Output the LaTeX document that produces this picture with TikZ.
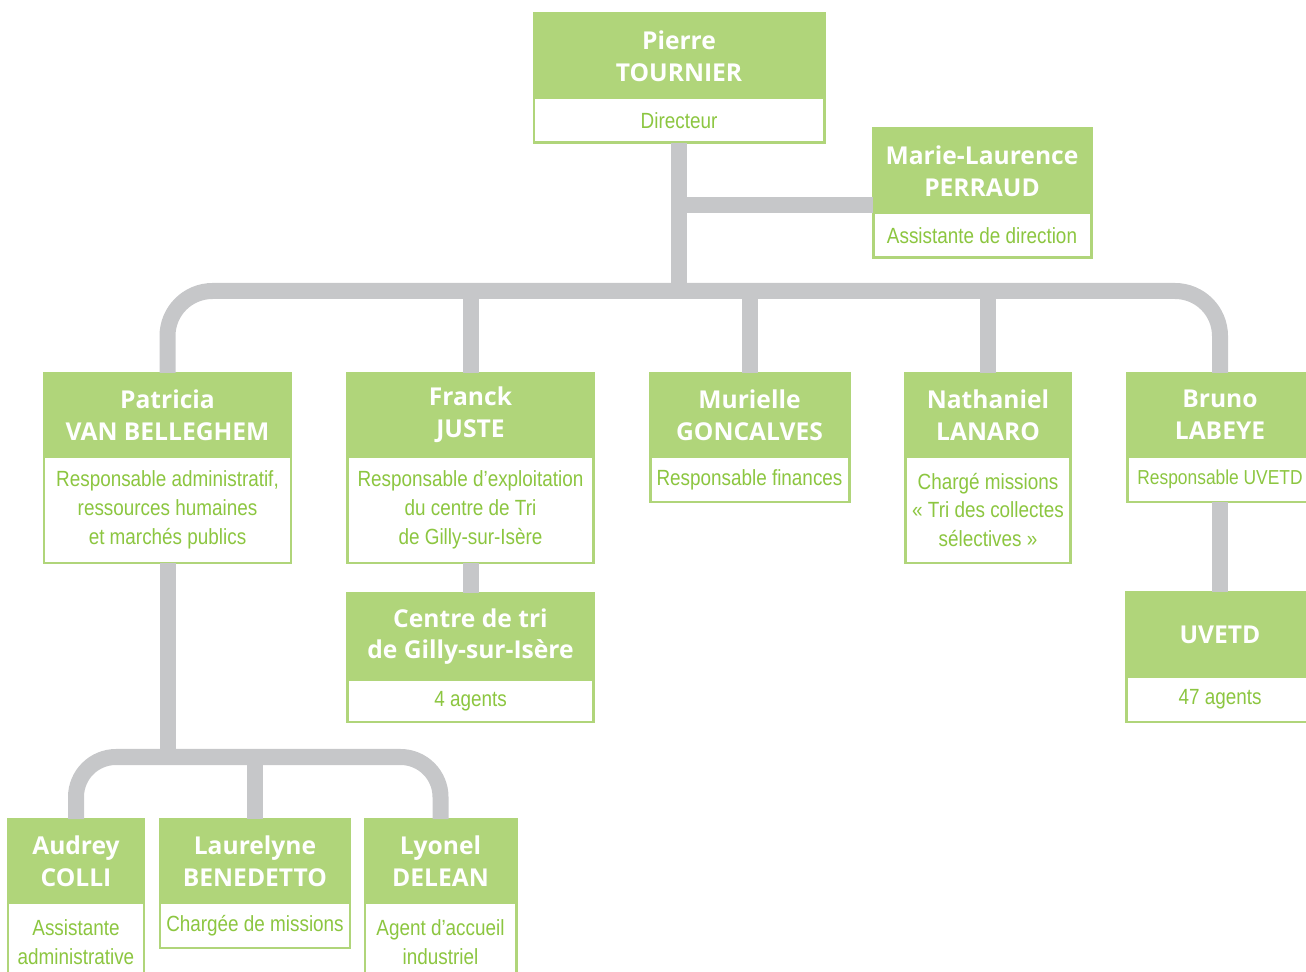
\documentclass[tikz,border=0pt]{standalone}
\usepackage{fontspec}
\setmainfont{Liberation Sans}
\newfontfamily\headfont{Open Sans}
\newfontfamily\rolefont[FakeStretch=0.86]{Liberation Sans}
\usetikzlibrary{positioning}
\definecolor{boxgreen}{HTML}{B0D57A}
\definecolor{textgreen}{HTML}{8CC640}
\definecolor{linkgray}{HTML}{C6C7C9}

\begin{document}
\begin{tikzpicture}[
  head/.style={rectangle, fill=boxgreen, draw=boxgreen, line width=1.7pt, outer sep=0pt, inner sep=0pt, minimum height=1.68cm, align=center, text=white, font=\headfont\bfseries\fontsize{14}{18}\selectfont},
  role/.style={rectangle, fill=white, draw=boxgreen, line width=1.7pt, outer sep=0pt, inner sep=0pt, minimum height=0.9cm, align=center, text=textgreen, font=\rolefont\fontsize{12.5}{16.4}\selectfont},
  link/.style={draw=linkgray, line width=0.32cm}
]
\useasboundingbox (0,0) rectangle (26.12,-19.44);

\node[head, minimum width=5.8cm] (tournier) at (13.58,-1.12) {Pierre\\TOURNIER};
\node[role, minimum width=5.8cm, below=0pt of tournier] (tournierR) {Directeur};
\node[head, minimum width=4.36cm] (perraud) at (19.64,-3.42) {Marie-Laurence\\PERRAUD};
\node[role, minimum width=4.36cm, below=0pt of perraud] (perraudR) {Assistante de direction};

\node[head, minimum width=4.94cm] (vanbelleghem) at (3.35,-8.3) {Patricia\\VAN BELLEGHEM};
\node[role, minimum width=4.94cm, minimum height=2.12cm, below=0pt of vanbelleghem] (vanbelleghemR) {Responsable administratif,\\ressources humaines\\et marchés publics};
\node[head, minimum width=4.92cm, right=1.13cm of vanbelleghem] (juste) {Franck\\JUSTE};
\node[role, minimum width=4.92cm, minimum height=2.12cm, below=0pt of juste] (justeR) {Responsable d’exploitation\\du centre de Tri\\de Gilly-sur-Isère};
\node[head, minimum width=3.98cm, right=1.13cm of juste] (goncalves) {Murielle\\GONCALVES};
\node[role, minimum width=3.98cm, below=0pt of goncalves] (goncalvesR) {Responsable finances};
\node[head, minimum width=3.3cm, right=1.13cm of goncalves] (lanaro) {Nathaniel\\LANARO};
\node[role, minimum width=3.3cm, minimum height=2.12cm, below=0pt of lanaro] (lanaroR) {Chargé missions\\« Tri des collectes\\sélectives »};
\node[head, minimum width=3.72cm, right=1.13cm of lanaro] (labeye) {Bruno\\LABEYE};
\node[role, minimum width=3.72cm, below=0pt of labeye, font=\rolefont\fontsize{11.5}{16.4}\selectfont] (labeyeR) {Responsable UVETD};

\node[head, minimum width=4.92cm, minimum height=1.74cm, below=0.6cm of justeR] (centre) {Centre de tri\\de Gilly-sur-Isère};
\node[role, minimum width=4.92cm, minimum height=0.84cm, below=0pt of centre] (centreR) {4 agents};
\node[head, minimum width=3.76cm, minimum height=1.7cm, below=1.8cm of labeyeR] (uvetd) {UVETD};
\node[role, minimum width=3.76cm, below=0pt of uvetd] (uvetdR) {47 agents};

\node[head, minimum width=2.72cm] (colli) at (1.52,-17.22) {Audrey\\COLLI};
\node[role, minimum width=2.72cm, minimum height=1.56cm, below=0pt of colli] (colliR) {Assistante\\administrative};
\node[head, minimum width=3.8cm, right=0.32cm of colli] (benedetto) {Laurelyne\\BENEDETTO};
\node[role, minimum width=3.8cm, below=0pt of benedetto] (benedettoR) {Chargée de missions};
\node[head, minimum width=3.02cm, right=0.3cm of benedetto] (delean) {Lyonel\\DELEAN};
\node[role, minimum width=3.02cm, minimum height=1.56cm, below=0pt of delean] (deleanR) {Agent d’accueil\\industriel};

\coordinate (pa) at (13.58,-4.1);
\coordinate (bus) at (13.58,-5.82);
\coordinate (bus2) at (3.35,-15.14);

\draw[link] (tournierR) -- (bus);
\draw[link] (pa) -- (perraud.west |- pa);
\draw[link, rounded corners=0.9cm] (vanbelleghem) |- (bus) -| (labeye);
\draw[link] (juste) -- (juste |- bus);
\draw[link] (goncalves) -- (goncalves |- bus);
\draw[link] (lanaro) -- (lanaro |- bus);
\draw[link] (justeR) -- (centre);
\draw[link] (labeyeR) -- (uvetd);

\draw[link] (vanbelleghemR) -- (bus2);
\draw[link, rounded corners=0.8cm] (colli) |- (bus2) -| (delean);
\draw[link] (benedetto) -- (benedetto |- bus2);

\end{tikzpicture}
\end{document}
